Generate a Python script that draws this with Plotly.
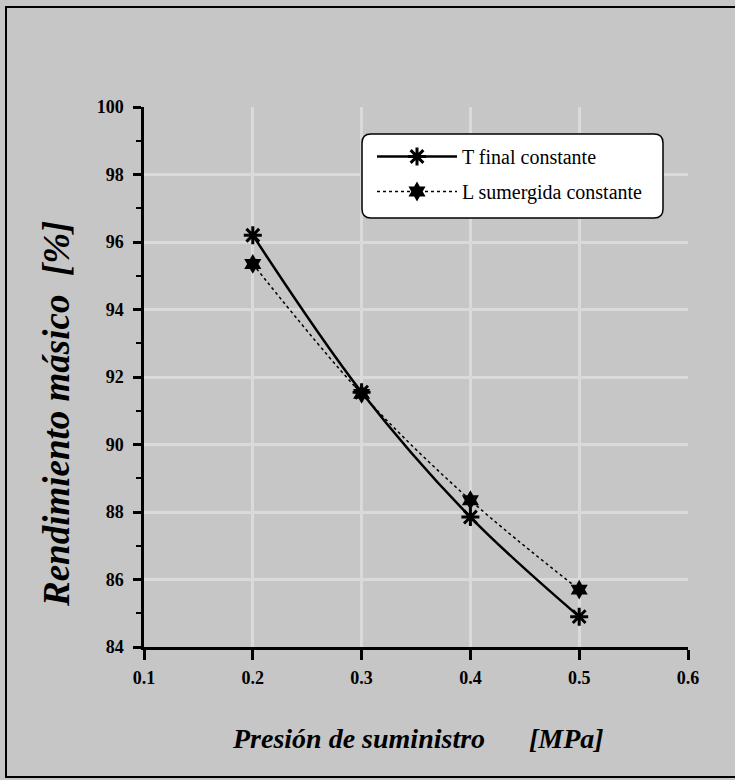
import plotly.graph_objects as go

# Supply pressure [MPa] and mass yield [%]
pressure = [0.2, 0.3, 0.4, 0.5]
t_final_constante = [96.2, 91.55, 87.85, 84.9]
l_sumergida_constante = [95.35, 91.5, 88.35, 85.7]

x_tick_vals = [0.1, 0.2, 0.3, 0.4, 0.5, 0.6]
y_tick_vals = [84, 86, 88, 90, 92, 94, 96, 98, 100]

W, H = 735, 780
PL, PR, PT, PB = 144, 688, 107, 647          # plot-area edges in pixels
SERIF = "Liberation Serif, Times New Roman, serif"
BG = "#c6c6c6"


def px_x(p):
    return (p - PL) / (PR - PL)


def px_y(p):
    return (PB - p) / (PB - PT)


def rounded_box(x0, y0, x1, y1, r):
    """Rounded rectangle path (pixel inputs) in paper coordinates."""
    rx = r / (PR - PL)
    ry = r / (PB - PT)
    a, b, c, d = px_x(x0), px_x(x1), px_y(y1), px_y(y0)   # left, right, bottom, top
    return (f"M{a + rx},{d} L{b - rx},{d} Q{b},{d} {b},{d - ry} "
            f"L{b},{c + ry} Q{b},{c} {b - rx},{c} "
            f"L{a + rx},{c} Q{a},{c} {a},{c + ry} "
            f"L{a},{d - ry} Q{a},{d} {a + rx},{d} Z")


fig = go.Figure()

fig.add_trace(go.Scatter(
    x=pressure, y=t_final_constante,
    mode="lines+markers", name="T final constante", legendgroup="t",
    line=dict(color="black", width=2.5, shape="spline", smoothing=1),
    marker=dict(symbol="asterisk", size=15, color="black",
                line=dict(color="black", width=3)),
))

fig.add_trace(go.Scatter(
    x=pressure, y=l_sumergida_constante,
    mode="lines+markers", name="L sumergida constante", legendgroup="l",
    line=dict(color="black", width=1.5, dash="dot", shape="spline", smoothing=1),
    marker=dict(symbol="hexagram", size=15, color="black"),
))

# Outer frame (top, left, bottom) and rounded legend box
frame = (f"M{px_x(W + 20)},{px_y(7)} L{px_x(6)},{px_y(7)} "
         f"L{px_x(6)},{px_y(777)} L{px_x(W + 20)},{px_y(777)}")
shapes = [
    dict(type="path", xref="paper", yref="paper", path=frame,
         line=dict(color="black", width=2)),
    dict(type="path", xref="paper", yref="paper",
         path=rounded_box(362, 134, 663, 218, 9),
         fillcolor="white", line=dict(color="black", width=1.5), layer="above"),
]

title_font = dict(family=SERIF, size=28, color="black", weight="bold", style="italic")
annotations = [
    dict(text="Presión de suministro", xref="paper", yref="paper",
         x=px_x(487), y=px_y(738), xanchor="right", yanchor="middle",
         showarrow=False, font=title_font),
    dict(text="[MPa]", xref="paper", yref="paper",
         x=px_x(527), y=px_y(738), xanchor="left", yanchor="middle",
         showarrow=False, font=title_font),
    dict(text="Rendimiento másico\u00a0\u00a0[%]", xref="paper", yref="paper",
         x=px_x(56), y=px_y(609), xanchor="center", yanchor="bottom",
         textangle=-90, showarrow=False,
         font=dict(title_font, size=37)),
]

tick_font = dict(family=SERIF, size=18, color="black", weight="bold")

fig.update_layout(
    width=W, height=H,
    margin=dict(l=PL, r=W - PR, t=PT, b=H - PB),
    paper_bgcolor=BG, plot_bgcolor=BG,
    shapes=shapes, annotations=annotations,
    showlegend=True,
    legend=dict(
        x=px_x(372), y=px_y(137), xanchor="left", yanchor="top",
        bgcolor="rgba(0,0,0,0)", borderwidth=0,
        font=dict(family=SERIF, size=20, color="black"),
        itemwidth=80, tracegroupgap=6,
    ),
    xaxis=dict(
        range=[0.1, 0.6], tickvals=x_tick_vals,
        ticktext=[f"{v:.1f}" for v in x_tick_vals],
        showline=True, linecolor="black", linewidth=3,
        ticks="outside", ticklen=10, tickwidth=2.5, tickcolor="black",
        ticklabelstandoff=2,
        tickfont=tick_font,
        showgrid=True, gridcolor="#dadada", gridwidth=3,
        zeroline=False,
    ),
    yaxis=dict(
        range=[84, 100], tickvals=y_tick_vals,
        showline=True, linecolor="black", linewidth=2.5,
        ticks="outside", ticklen=8, tickwidth=2.5, tickcolor="black",
        ticklabelstandoff=6,
        tickfont=tick_font,
        minor=dict(dtick=1, ticks="outside", ticklen=5, tickwidth=2,
                   tickcolor="black", showgrid=False),
        showgrid=True, gridcolor="#dadada", gridwidth=3,
        zeroline=False,
    ),
)

fig.write_html("out.html")
